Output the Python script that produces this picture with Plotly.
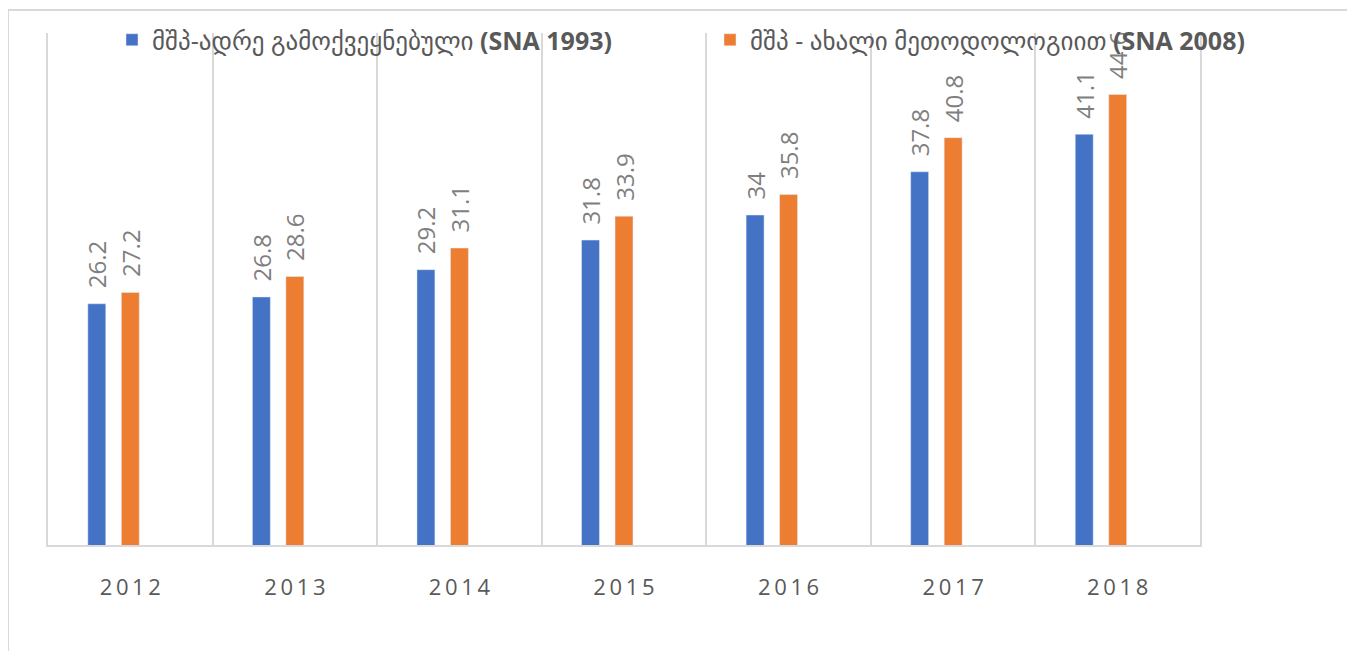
import plotly.graph_objects as go

years = ["2012", "2013", "2014", "2015", "2016", "2017", "2018"]
gdp_sna1993 = [26.2, 26.8, 29.2, 31.8, 34, 37.8, 41.1]
gdp_sna2008 = [27.2, 28.6, 31.1, 33.9, 35.8, 40.8, 44.6]
name_1993 = "მშპ-ადრე გამოქვეყნებული <b>(SNA 1993)</b>"
name_2008 = "მშპ - ახალი მეთოდოლოგიით <b>(SNA 2008)</b>"

BLUE = "#4472C4"
ORANGE = "#ED7D31"
GRID = "#D9D9D9"
LABEL = "#7F7F7F"
TEXT = "#595959"
FONT = "Open Sans, DejaVu Sans, sans-serif"

# page geometry (page has an 8px body margin)
BODY = 8
PL, PR, PT, PB = 48, 1200, 33, 545          # plot area in page pixels
FW, FH = 1355 - 2 * BODY, 659 - 2 * BODY
PW, PH = PR - PL, PB - PT

def px_x(p):
    return (p - PL) / PW

def px_y(p):
    return (PB - p) / PH

bar_w = 0.109
label_tpl = "\u00a0\u00a0%{y}"
fig = go.Figure()
fig.add_trace(go.Bar(
    x=years, y=gdp_sna1993, name=name_1993, marker_color=BLUE,
    width=bar_w, offset=-0.2035 - bar_w / 2,
    texttemplate=label_tpl, textposition="outside",
    textangle=-90, constraintext="none", cliponaxis=False,
    outsidetextfont=dict(color=LABEL, size=24, family=FONT),
    legend="legend",
))
fig.add_trace(go.Bar(
    x=years, y=gdp_sna2008, name=name_2008, marker_color=ORANGE,
    width=bar_w, offset=-bar_w / 2,
    texttemplate=label_tpl, textposition="outside",
    textangle=-90, constraintext="none", cliponaxis=False,
    outsidetextfont=dict(color=LABEL, size=24, family=FONT),
    legend="legend2",
))

ticktext = ["\u2009".join(list(y)) for y in years]

legend_common = dict(
    orientation="h", yanchor="middle", y=px_y(40), xanchor="left",
    font=dict(size=25, color=TEXT, family=FONT), bgcolor="rgba(0,0,0,0)",
)

fig.update_layout(
    width=FW, height=FH, autosize=False,
    margin=dict(l=PL - BODY, r=FW - (PR - BODY), t=PT - BODY, b=FH - (PB - BODY),
                autoexpand=False),
    paper_bgcolor="white", plot_bgcolor="white",
    barmode="group",
    font=dict(family=FONT, color=TEXT),
    showlegend=True,
    legend=dict(x=px_x(112), **legend_common),
    legend2=dict(x=px_x(710), **legend_common),
    xaxis=dict(
        type="category", tickson="boundaries", showgrid=True, gridcolor=GRID,
        gridwidth=1.5, showline=True, linecolor=GRID, linewidth=2,
        ticks="", tickvals=years, ticktext=ticktext,
        tickfont=dict(size=22, color=TEXT, family=FONT),
        ticklabelstandoff=22, range=[-0.5, 6.5],
    ),
    yaxis=dict(
        range=[5, 50], showgrid=False, showticklabels=False, ticks="",
        showline=True, mirror=True, linecolor=GRID, linewidth=1.5, zeroline=False,
    ),
    shapes=[dict(
        type="rect", xref="paper", yref="paper",
        x0=px_x(8), x1=px_x(1348),
        y0=px_y(670), y1=px_y(10),
        line=dict(color=GRID, width=2), fillcolor="rgba(0,0,0,0)", layer="below",
    )],
)

fig.write_html("out.html")
